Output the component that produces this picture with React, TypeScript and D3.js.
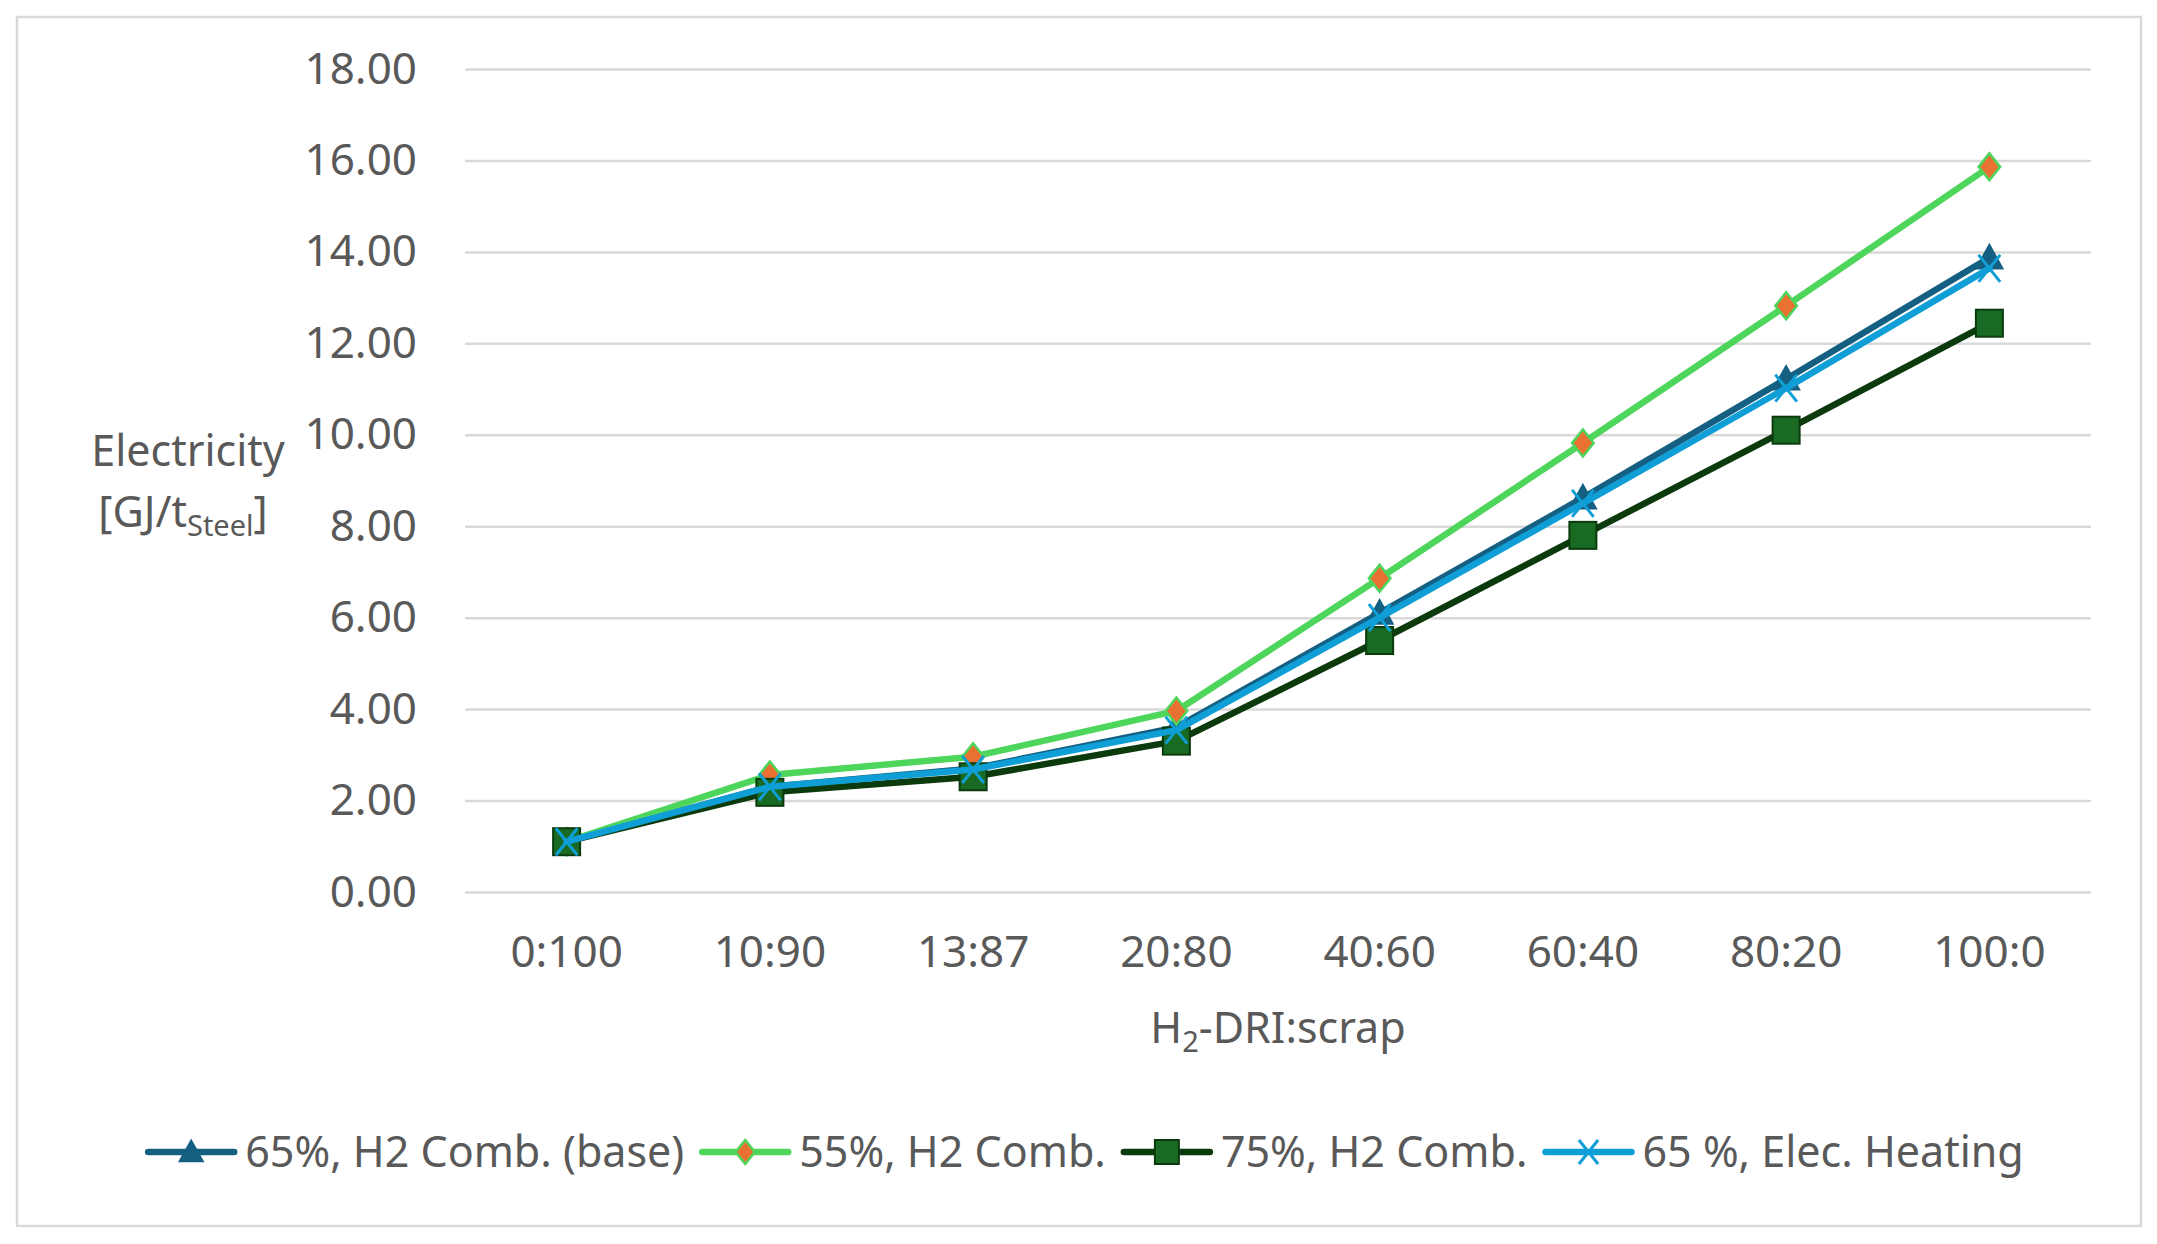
import React from 'react';
import * as d3 from 'd3';

const categories = ['0:100', '10:90', '13:87', '20:80', '40:60', '60:40', '80:20', '100:0'];

const baseComb = [1.1, 2.3, 2.7, 3.6, 6.1, 8.62, 11.22, 13.87];
const comb55 = [1.1, 2.56, 2.96, 3.96, 6.86, 9.82, 12.82, 15.86];
const comb75 = [1.1, 2.18, 2.52, 3.3, 5.5, 7.8, 10.1, 12.44];
const elecHeating = [1.1, 2.3, 2.68, 3.54, 6.0, 8.5, 11.02, 13.64];

const seriesNames = ['65%, H2 Comb. (base)', '55%, H2 Comb.', '75%, H2 Comb.', '65 %, Elec. Heating'];
const yTicks = [0, 2, 4, 6, 8, 10, 12, 14, 16, 18];

const styles = [
  { line: '#156082', marker: 'triangle', fill: '#156082', stroke: '#156082' },
  { line: '#4ED55B', marker: 'diamond', fill: '#E97132', stroke: '#4ED55B' },
  { line: '#0B3A0C', marker: 'square', fill: '#196B24', stroke: '#0B3A0C' },
  { line: '#0F9ED5', marker: 'x', fill: 'none', stroke: '#0F9ED5' },
];

const W = 2157;
const H = 1244;
const FONT = '"Noto Sans", sans-serif';
const TEXT = '#595959';
const FS = 43;

const drawMarker = (g: any, kind: string, st: any, size: number) => {
  const s = size / 2;
  if (kind === 'triangle') {
    g.append('path').attr('d', `M0,${-s}L${s},${s * 0.8}L${-s},${s * 0.8}Z`)
      .attr('fill', st.fill).attr('stroke', st.stroke).attr('stroke-width', 1.5);
  } else if (kind === 'diamond') {
    g.append('path').attr('d', `M0,${-s}L${s * 0.8},0L0,${s}L${-s * 0.8},0Z`)
      .attr('fill', st.fill).attr('stroke', st.stroke).attr('stroke-width', 2.5);
  } else if (kind === 'square') {
    g.append('rect').attr('x', -s).attr('y', -s).attr('width', size).attr('height', size)
      .attr('fill', st.fill).attr('stroke', st.stroke).attr('stroke-width', 2);
  } else {
    g.append('path').attr('d', `M${-s * 0.8},${-s}L${s * 0.8},${s}M${s * 0.8},${-s}L${-s * 0.8},${s}`)
      .attr('fill', 'none').attr('stroke', st.stroke).attr('stroke-width', 3);
  }
};

const renderChart = (svg: any) => {
  svg.selectAll('*').remove();
  const allSeries = [baseComb, comb55, comb75, elecHeating];

  const x = d3.scaleBand().domain(categories).range([465, 2091]);
  const y = d3.scaleLinear().domain([0, 18]).range([892, 69]);

  svg.append('rect')
    .attr('x', 17).attr('y', 17).attr('width', 2124).attr('height', 1209)
    .attr('fill', '#fff').attr('stroke', '#d9d9d9').attr('stroke-width', 2.5);

  // y axis with gridlines
  const yAxis = svg.append('g')
    .attr('transform', 'translate(465,0)')
    .call(d3.axisLeft(y).tickValues(yTicks).tickFormat((d: any) => d3.format('.2f')(d)).tickSize(-(2091 - 465)).tickPadding(48));
  yAxis.select('.domain').remove();
  yAxis.selectAll('line').attr('stroke', '#d9d9d9').attr('stroke-width', 2.5);
  yAxis.selectAll('text').attr('font-family', FONT).attr('font-size', 44).attr('fill', TEXT);

  // x axis labels
  const xAxis = svg.append('g')
    .attr('transform', 'translate(0,892)')
    .call(d3.axisBottom(x).tickSize(0).tickPadding(44));
  xAxis.select('.domain').remove();
  xAxis.selectAll('text').attr('font-family', FONT).attr('font-size', 44).attr('fill', TEXT);

  // axis titles
  const xt = svg.append('text')
    .attr('x', 1278).attr('y', 1043).attr('text-anchor', 'middle')
    .attr('font-family', FONT).attr('font-size', FS).attr('fill', TEXT);
  xt.append('tspan').text('H');
  xt.append('tspan').attr('font-size', 29).attr('dy', 9).text('2');
  xt.append('tspan').attr('dy', -9).text('-DRI:scrap');

  svg.append('text')
    .attr('x', 188).attr('y', 466).attr('text-anchor', 'middle')
    .attr('font-family', FONT).attr('font-size', FS).attr('fill', TEXT)
    .text('Electricity');
  const yt2 = svg.append('text')
    .attr('x', 183).attr('y', 527).attr('text-anchor', 'middle')
    .attr('font-family', FONT).attr('font-size', FS).attr('fill', TEXT);
  yt2.append('tspan').text('[GJ/t');
  yt2.append('tspan').attr('font-size', 29).attr('dy', 9).text('Steel');
  yt2.append('tspan').attr('dy', -9).text(']');

  // series
  const cx = (i: number) => (x(categories[i]) as number) + x.bandwidth() / 2;
  const line = d3.line<number>().x((_, i) => cx(i)).y(d => y(d));
  allSeries.forEach((values, si) => {
    const st = styles[si];
    const g = svg.append('g');
    g.append('path').datum(values).attr('d', line)
      .attr('fill', 'none').attr('stroke', st.line).attr('stroke-width', 6.5)
      .attr('stroke-linejoin', 'round').attr('stroke-linecap', 'round');
    values.forEach((v, i) => {
      const m = g.append('g').attr('transform', `translate(${cx(i)},${y(v)})`);
      drawMarker(m, st.marker, st, 27);
    });
  });

  // legend
  const leg = svg.append('g');
  let pos = 0;
  seriesNames.forEach((name, si) => {
    const st = styles[si];
    const item = leg.append('g').attr('transform', `translate(${pos},0)`);
    item.append('line').attr('x1', 0).attr('x2', 86).attr('y1', 0).attr('y2', 0)
      .attr('stroke', st.line).attr('stroke-width', 6.5).attr('stroke-linecap', 'round');
    const m = item.append('g').attr('transform', 'translate(43,0)');
    drawMarker(m, st.marker, st, 24);
    const t = item.append('text').attr('x', 97).attr('y', 15)
      .attr('font-family', FONT).attr('font-size', FS).attr('fill', TEXT).text(name);
    const w = (t.node() as SVGTextElement).getComputedTextLength();
    pos += 97 + w + 18;
  });
  const total = pos - 18;
  leg.attr('transform', `translate(${1086 - total / 2},1152)`);
};

const App: React.FC = () => {
  const ref = React.useRef<SVGSVGElement>(null);
  React.useEffect(() => {
    renderChart(d3.select(ref.current));
  }, []);
  return (
    <svg
      ref={ref}
      width={W}
      height={H}
      style={{ position: 'absolute', left: 0, top: 0, display: 'block', background: '#fff' }}
    />
  );
};

export default App;
